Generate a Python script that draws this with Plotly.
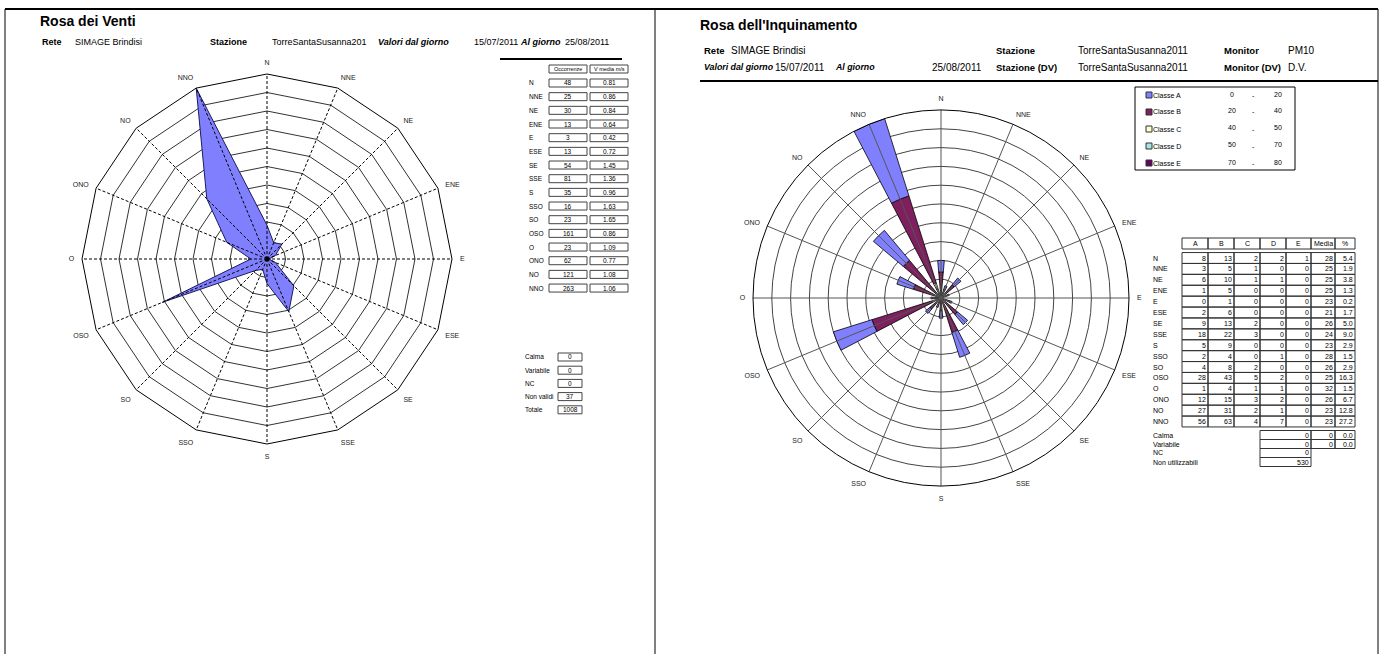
import plotly.graph_objects as go

W, H = 1383, 654
FONT = "Liberation Sans, Arial, sans-serif"

# ---------------- data ----------------
directions = ["N", "NNE", "NE", "ENE", "E", "ESE", "SE", "SSE",
              "S", "SSO", "SO", "OSO", "O", "ONO", "NO", "NNO"]

# Rosa dei Venti
occorrenze = [48, 25, 30, 13, 3, 13, 54, 81, 35, 16, 23, 161, 23, 62, 121, 263]
v_media = [0.81, 0.86, 0.84, 0.64, 0.42, 0.72, 1.45, 1.36,
           0.96, 1.63, 1.65, 0.86, 1.09, 0.77, 1.08, 1.06]
venti_extra_labels = ["Calma", "Variabile", "NC", "Non validi", "Totale"]
venti_extra_values = [0, 0, 0, 37, 1008]

# Rosa dell'Inquinamento (PM10)
class_names = ["Classe A", "Classe B", "Classe C", "Classe D", "Classe E"]
class_low = [0, 20, 40, 50, 70]
class_high = [20, 40, 50, 70, 80]
class_colors = ["#8080FF", "#7F1F5F", "#FFFFCC", "#A8E4E4", "#660066"]
classe_A = [8, 3, 6, 1, 0, 2, 9, 18, 5, 2, 4, 28, 1, 12, 27, 56]
classe_B = [13, 5, 10, 5, 1, 6, 13, 22, 9, 4, 8, 43, 4, 15, 31, 63]
classe_C = [2, 1, 1, 0, 0, 0, 2, 3, 0, 0, 2, 5, 1, 3, 2, 4]
classe_D = [2, 0, 1, 0, 0, 0, 0, 0, 0, 1, 0, 2, 1, 2, 1, 7]
classe_E = [1, 0, 0, 0, 0, 0, 0, 0, 0, 0, 0, 0, 0, 0, 0, 0]
media_conc = [28, 25, 25, 25, 23, 21, 26, 24, 23, 28, 26, 25, 32, 26, 23, 23]
percentuale = [5.4, 1.9, 3.8, 1.3, 0.2, 1.7, 5.0, 9.0,
               2.9, 1.5, 2.9, 16.3, 1.5, 6.7, 12.8, 27.2]
inq_extra_labels = ["Calma", "Variabile", "NC", "Non utilizzabili"]
inq_extra_counts = [0, 0, 0, 530]
inq_extra_media = [0, 0, None, None]
inq_extra_pct = [0.0, 0.0, None, None]

class_values = [classe_A, classe_B, classe_C, classe_D, classe_E]
table_columns = ["A", "B", "C", "D", "E", "Media", "%"]

# ---------------- helpers (pixel -> paper) ----------------
def px(x):
    return x / W


def py(y):
    return 1 - y / H


annotations = []
shapes = []


def text(x, y, s, size=9, anchor="left", bold=False, italic=False, color="#000"):
    if italic:
        s = f"<i>{s}</i>"
    if bold:
        s = f"<b>{s}</b>"
    annotations.append(dict(
        x=px(x), y=py(y), xref="paper", yref="paper", text=s, showarrow=False,
        xanchor=anchor, yanchor="middle", borderpad=0, borderwidth=0,
        font=dict(family=FONT, size=size, color=color)))


def line(x0, y0, x1, y1, width=1, color="#000"):
    shapes.append(dict(type="line", xref="paper", yref="paper",
                       x0=px(x0), y0=py(y0), x1=px(x1), y1=py(y1),
                       line=dict(color=color, width=width)))


def rect(x0, y0, x1, y1, width=1, color="#000", fill="rgba(0,0,0,0)"):
    shapes.append(dict(type="rect", xref="paper", yref="paper",
                       x0=px(x0), y0=py(y0), x1=px(x1), y1=py(y1),
                       line=dict(color=color, width=width), fillcolor=fill))


def spokes(rmax):
    th, rr = [], []
    for d in directions:
        th += [d, d, None]
        rr += [0, rmax, None]
    return th, rr


fig = go.Figure()

# ---------------- left: wind rose (radar) ----------------
rmax_v = max(occorrenze)
fig.add_trace(go.Scatterpolar(
    r=occorrenze + occorrenze[:1], theta=directions + directions[:1],
    mode="lines", fill="toself", fillcolor="#8080FF",
    line=dict(color="#1C1C5A", width=1), subplot="polar", hoverinfo="skip"))
th, rr = spokes(rmax_v)
fig.add_trace(go.Scatterpolar(
    r=rr, theta=th, mode="lines", subplot="polar", hoverinfo="skip",
    line=dict(color="#000", width=1, dash="3px,2px")))
fig.add_trace(go.Scatterpolar(
    r=[0], theta=[directions[0]], mode="markers", subplot="polar", hoverinfo="skip",
    marker=dict(symbol="square", size=5, color="#000")))

# ---------------- right: pollution rose (stacked bars) ----------------
totals = [sum(v) for v in zip(*class_values)]
rmax_i = max(totals)
for name, vals, col in reversed(list(zip(class_names, class_values, class_colors))):
    fig.add_trace(go.Barpolar(
        r=vals, theta=directions, name=name, subplot="polar2", hoverinfo="skip",
        marker=dict(color=col, line=dict(color="#000", width=0.8))))
th, rr = spokes(rmax_i)
fig.add_trace(go.Scatterpolar(
    r=rr, theta=th, mode="lines", subplot="polar2", hoverinfo="skip",
    line=dict(color="#555", width=1)))

angular_common = dict(
    type="category", categoryarray=directions, direction="clockwise", rotation=90,
    showgrid=False, linecolor="#000", linewidth=1, ticks="outside", ticklen=6,
    tickcolor="rgba(0,0,0,0)", tickfont=dict(family=FONT, size=7, color="#222"))

# ---------------- frame ----------------
line(5, 9, 1378, 9, width=2)
line(5, 9, 5, 654, width=1)
line(655, 9, 655, 654, width=1)
line(1378, 9, 1378, 654, width=1)

# ---------------- left header ----------------
text(40, 21, "Rosa dei Venti", size=14, bold=True)
text(42, 42, "Rete", bold=True)
text(75, 42, "SIMAGE Brindisi")
text(210, 42, "Stazione", bold=True)
text(272, 42, "TorreSantaSusanna201")
text(378, 42, "Valori dal giorno", bold=True, italic=True)
text(474, 42, "15/07/2011")
text(520, 42, "Al giorno", bold=True, italic=True)
text(565, 42, "25/08/2011")
line(500, 59, 622, 59, width=2)

# left table
b1 = (549, 587)
b2 = (590, 628)
rect(b1[0], 65, b1[1], 73, color="#444")
rect(b2[0], 65, b2[1], 73, color="#444")
text((b1[0] + b1[1]) / 2, 69, "Occorrenze", size=5.5, anchor="center")
text((b2[0] + b2[1]) / 2, 69, "V media m/s", size=5.5, anchor="center")
for i, d in enumerate(directions):
    yc = 83 + i * 13.67
    text(529, yc, d, size=6.5)
    rect(b1[0], yc - 4, b1[1], yc + 4, color="#444")
    rect(b2[0], yc - 4, b2[1], yc + 4, color="#444")
    text((b1[0] + b1[1]) / 2, yc, f"{occorrenze[i]}", size=6.5, anchor="center")
    text((b2[0] + b2[1]) / 2, yc, f"{v_media[i]:.2f}", size=6.5, anchor="center")

for i, (lab, val) in enumerate(zip(venti_extra_labels, venti_extra_values)):
    yc = 357 + i * 13.2
    text(525, yc, lab, size=6.5)
    rect(558, yc - 4, 582, yc + 4, color="#444")
    text(570, yc, f"{val}", size=6.5, anchor="center")

# ---------------- right header ----------------
text(700, 25, "Rosa dell'Inquinamento", size=14, bold=True)
text(704, 50, "Rete", size=9.5, bold=True)
text(731, 50, "SIMAGE Brindisi", size=10)
text(996, 50, "Stazione", size=9.5, bold=True)
text(1078, 50, "TorreSantaSusanna2011", size=10)
text(1224, 50, "Monitor", size=9.5, bold=True)
text(1288, 50, "PM10", size=10)
text(704, 67, "Valori dal giorno", size=8.8, bold=True, italic=True)
text(775, 67, "15/07/2011", size=10)
text(835, 67, "Al giorno", size=8.8, bold=True, italic=True)
text(932, 67, "25/08/2011", size=10)
text(996, 67, "Stazione (DV)", size=9.5, bold=True)
text(1078, 67, "TorreSantaSusanna2011", size=10)
text(1224, 67, "Monitor (DV)", size=9.5, bold=True)
text(1288, 67, "D.V.", size=10)
line(700, 81, 1378, 81, width=2)

# legend box
rect(1135, 87, 1295, 170, color="#000")
for i, (name, lo, hi, col) in enumerate(zip(class_names, class_low, class_high, class_colors)):
    yc = 95 + i * 17
    rect(1146, yc - 3, 1152, yc + 3, color="#333", fill=col)
    text(1153, yc, name, size=7)
    text(1232, yc - 1, f"{lo}", size=7, anchor="center")
    text(1253, yc, "-", size=7, anchor="center")
    text(1278, yc - 1, f"{hi}", size=7, anchor="center")

# right table
col_edges = [1182, 1208, 1234, 1260, 1286, 1311, 1335, 1355]
for j, c in enumerate(table_columns):
    rect(col_edges[j], 238, col_edges[j + 1], 249, color="#333")
    text((col_edges[j] + col_edges[j + 1]) / 2, 243.5, c, size=7, anchor="center")
row_dy = 10.9
for i, d in enumerate(directions):
    yc = 258 + i * row_dy
    text(1153, yc, d, size=7)
    row_vals = [str(v[i]) for v in class_values] + [str(media_conc[i]), f"{percentuale[i]:.1f}"]
    for j, s in enumerate(row_vals):
        rect(col_edges[j], yc - row_dy / 2, col_edges[j + 1], yc + row_dy / 2, color="#333")
        text(col_edges[j + 1] - 2, yc, s, size=7, anchor="right")

for i, lab in enumerate(inq_extra_labels):
    yc = 435 + i * 9
    text(1153, yc, lab, size=7)
    rect(1260, yc - 4.5, 1311, yc + 4.5, color="#333")
    text(1309, yc, str(inq_extra_counts[i]), size=7, anchor="right")
    if inq_extra_media[i] is not None:
        rect(1311, yc - 4.5, 1335, yc + 4.5, color="#333")
        text(1333, yc, str(inq_extra_media[i]), size=7, anchor="right")
    if inq_extra_pct[i] is not None:
        rect(1335, yc - 4.5, 1355, yc + 4.5, color="#333")
        text(1353, yc, f"{inq_extra_pct[i]:.1f}", size=7, anchor="right")

# ---------------- polar layouts ----------------
cxl, cyl, rl = 267, 259, 185
cxr, cyr, rrr = 941, 298, 188

fig.update_layout(
    width=W, height=H, margin=dict(l=0, r=0, t=0, b=0),
    paper_bgcolor="white", plot_bgcolor="white", showlegend=False,
    polar=dict(
        domain=dict(x=[px(cxl - rl), px(cxl + rl)], y=[py(cyl + rl), py(cyl - rl)]),
        bgcolor="white", gridshape="linear",
        radialaxis=dict(range=[0, rmax_v], tick0=0, dtick=rmax_v / 10,
                        showticklabels=False, ticks="", showline=False,
                        gridcolor="#333", gridwidth=1),
        angularaxis=angular_common,
    ),
    polar2=dict(
        domain=dict(x=[px(cxr - rrr), px(cxr + rrr)], y=[py(cyr + rrr), py(cyr - rrr)]),
        bgcolor="white", gridshape="circular", bargap=0.55, barmode="stack",
        radialaxis=dict(range=[0, rmax_i], tick0=0, dtick=rmax_i / 10,
                        showticklabels=False, ticks="", showline=False,
                        gridcolor="#444", gridwidth=1),
        angularaxis=angular_common,
    ),
    annotations=annotations,
    shapes=shapes,
)

fig.write_html("out.html")
